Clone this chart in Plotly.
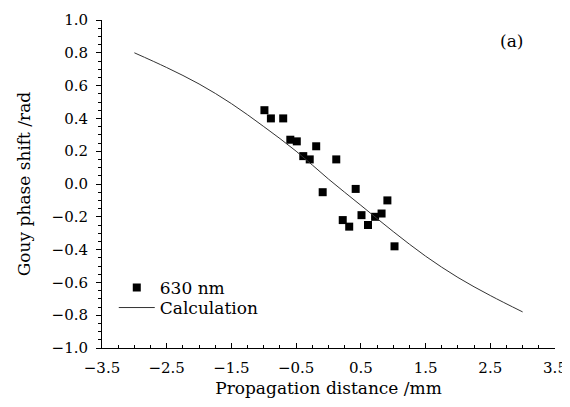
import plotly.graph_objects as go

# Measured data (630 nm)
meas_x = [-0.99, -0.89, -0.70, -0.59, -0.49, -0.19, -0.39, -0.29, 0.12, -0.09,
          0.42, 0.91, 0.22, 0.32, 0.51, 0.72, 0.82, 0.61, 1.02]
meas_y = [0.45, 0.40, 0.40, 0.27, 0.26, 0.23, 0.17, 0.15, 0.15, -0.05,
          -0.03, -0.10, -0.22, -0.26, -0.19, -0.20, -0.18, -0.25, -0.38]

# Calculation curve
calc_x = [-3.0, -2.5, -2.0, -1.5, -1.0, -0.5, 0.0, 0.5, 1.0, 1.5, 2.0, 2.5, 3.0]
calc_y = [0.80, 0.71, 0.61, 0.49, 0.35, 0.20, 0.03, -0.13, -0.29, -0.44, -0.57, -0.68, -0.78]

x_ticks = [-3.5, -2.5, -1.5, -0.5, 0.5, 1.5, 2.5, 3.5]
y_ticks = [-1.0, -0.8, -0.6, -0.4, -0.2, 0.0, 0.2, 0.4, 0.6, 0.8, 1.0]

FONT = "DejaVu Serif"

fig = go.Figure()
fig.add_trace(go.Scatter(x=meas_x, y=meas_y, mode="markers", name="630 nm",
                         legend="legend",
                         marker=dict(symbol="square", size=8, color="black")))
fig.add_trace(go.Scatter(x=calc_x, y=calc_y, mode="lines", name="Calculation",
                         legend="legend2",
                         line=dict(color="#333333", width=1, shape="spline")))

leg_common = dict(xanchor="left", yanchor="middle", bgcolor="rgba(0,0,0,0)",
                  font=dict(family=FONT, size=17), itemwidth=36)

fig.update_layout(
    width=570, height=391,
    margin=dict(l=94, r=23, t=12, b=51, autoexpand=False),
    paper_bgcolor="white", plot_bgcolor="white",
    font=dict(family=FONT, size=15, color="black"),
    showlegend=True,
    legend=dict(x=0.026, y=0.183, **leg_common),
    legend2=dict(x=0.026, y=0.122, **leg_common),
    xaxis=dict(range=[-3.5, 3.5], tickvals=x_ticks, automargin=False,
               ticktext=[f"{v:.1f}".replace("-", "\u2212") for v in x_ticks],
               showline=True, linecolor="black", linewidth=1, mirror=False,
               ticks="inside", ticklen=5, tickcolor="black", showgrid=False, zeroline=False,
               minor=dict(dtick=0.25, ticks="inside", ticklen=3, tickcolor="black"),
               ticklabelstandoff=6,
               title=dict(text="Propagation distance /mm", font=dict(family=FONT, size=17), standoff=6),
               tickfont=dict(family=FONT, size=15)),
    yaxis=dict(range=[-1.0, 1.0], tickvals=y_ticks, automargin=False,
               ticktext=[f"{v:.1f}".replace("-", "\u2212") for v in y_ticks],
               showline=True, linecolor="black", linewidth=1, mirror=False,
               ticks="outside", ticklen=5, tickcolor="black", showgrid=False, zeroline=False,
               minor=dict(dtick=0.05, ticks="outside", ticklen=3, tickcolor="black"),
               ticklabelstandoff=5,
               title=dict(text="Gouy phase shift /rad", font=dict(family=FONT, size=17), standoff=16),
               tickfont=dict(family=FONT, size=15)),
    annotations=[dict(x=0.903, y=0.936, xref="paper", yref="paper", text="(a)",
                      xanchor="center", yanchor="middle",
                      showarrow=False, font=dict(family=FONT, size=17))],
)

fig.write_html("out.html")
